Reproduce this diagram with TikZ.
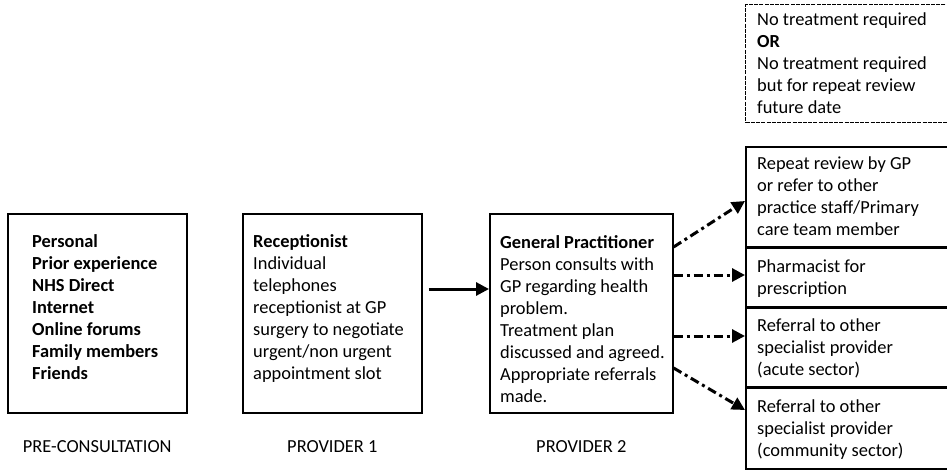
\documentclass[tikz,border=0pt]{standalone}
\usepackage{fontspec}
\setmainfont{Carlito}
\usetikzlibrary{arrows.meta}
\begin{document}
\begin{tikzpicture}[x=1pt,y=-1pt,
  box/.style={draw, line width=1.6pt, anchor=north west, inner sep=0pt},
  dbox/.style={box, line width=1.4pt, dash pattern=on 4pt off 1.2pt},
  txt/.style={anchor=north west, inner sep=0pt, align=left, font=\fontsize{18.4}{22}\selectfont},
  lbl/.style={anchor=base, inner sep=0pt, font=\fontsize{18.4}{22}\selectfont},
  ddarr/.style={line width=3pt, dash pattern=on 9pt off 4pt on 3pt off 4pt, -{Triangle[length=13pt,width=13pt]}},
  solidarr/.style={line width=3pt, -{Triangle[length=13pt,width=13pt]}}]
\useasboundingbox (0,0) rectangle (947,469);
\clip (0,0) rectangle (947,469);

% main boxes
\node[box, minimum width=179pt, minimum height=199pt] (b1) at (7,213) {};
\node[box, minimum width=179pt, minimum height=199pt] (b2) at (242,213) {};
\node[box, minimum width=183pt, minimum height=199pt] (b3) at (489,213) {};

\node[txt] (t1) at (32,231.6) {\strut\textbf{Personal}\\ \textbf{Prior experience}\\ \textbf{NHS Direct}\\ \textbf{Internet}\\ \textbf{Online forums}\\ \textbf{Family members}\\ \textbf{Friends}};
\node[txt] (t2) at (253,231.6) {\strut\textbf{Receptionist}\\ Individual\\ telephones\\ receptionist at GP\\ surgery to negotiate\\ urgent/non urgent\\ appointment slot};
\node[txt] (t3) at (500,232.6) {\strut\textbf{General Practitioner}\\ Person consults with\\ GP regarding health\\ problem.\\ Treatment plan\\ discussed and agreed.\\ Appropriate referrals\\ made.};

% labels
\node[lbl] (l1) at (b1.south |- 0,452) {PRE-CONSULTATION};
\node[lbl] (l2) at (b2.south |- 0,452) {PROVIDER 1};
\node[lbl] (l3) at (b3.south |- 0,452) {PROVIDER 2};

% right boxes
\node[dbox, minimum width=215pt, minimum height=118pt] (r0) at (745,4) {};
\node[box, minimum width=215pt, minimum height=100.3pt] (r1) at (745,146) {};
\node[box, minimum width=215pt, minimum height=58.6pt] (r2) at (745,247.7) {};
\node[box, minimum width=215pt, minimum height=78.6pt] (r3) at (745,307.7) {};
\node[box, minimum width=215pt, minimum height=80.3pt] (r4) at (745,387.7) {};

\node[txt] (s0) at (757,9.6) {\strut No treatment required\\ \textbf{OR}\\ No treatment required\\ but for repeat review\\ future date};
\node[txt] (s1) at (757,153.6) {\strut Repeat review by GP\\ or refer to other\\ practice staff/Primary\\ care team member};
\node[txt] (s2) at (757,256.6) {\strut Pharmacist for\\ prescription};
\node[txt] (s3) at (757,315.6) {\strut Referral to other\\ specialist provider\\ (acute sector)};
\node[txt] (s4) at (757,396.6) {\strut Referral to other\\ specialist provider\\ (community sector)};

% connectors
\draw[solidarr] (b2.east |- 0,289) ++(6,0) -- (b3.west |- 0,289);
\draw[ddarr] (b3.east |- 0,247) -- (r1.west |- 0,201);
\draw[ddarr] (b3.east |- 0,275) -- (r2.west |- 0,275);
\draw[ddarr] (b3.east |- 0,336) -- (r3.west |- 0,336);
\draw[ddarr] (b3.east |- 0,368) -- (r4.west |- 0,410);
\end{tikzpicture}
\end{document}
